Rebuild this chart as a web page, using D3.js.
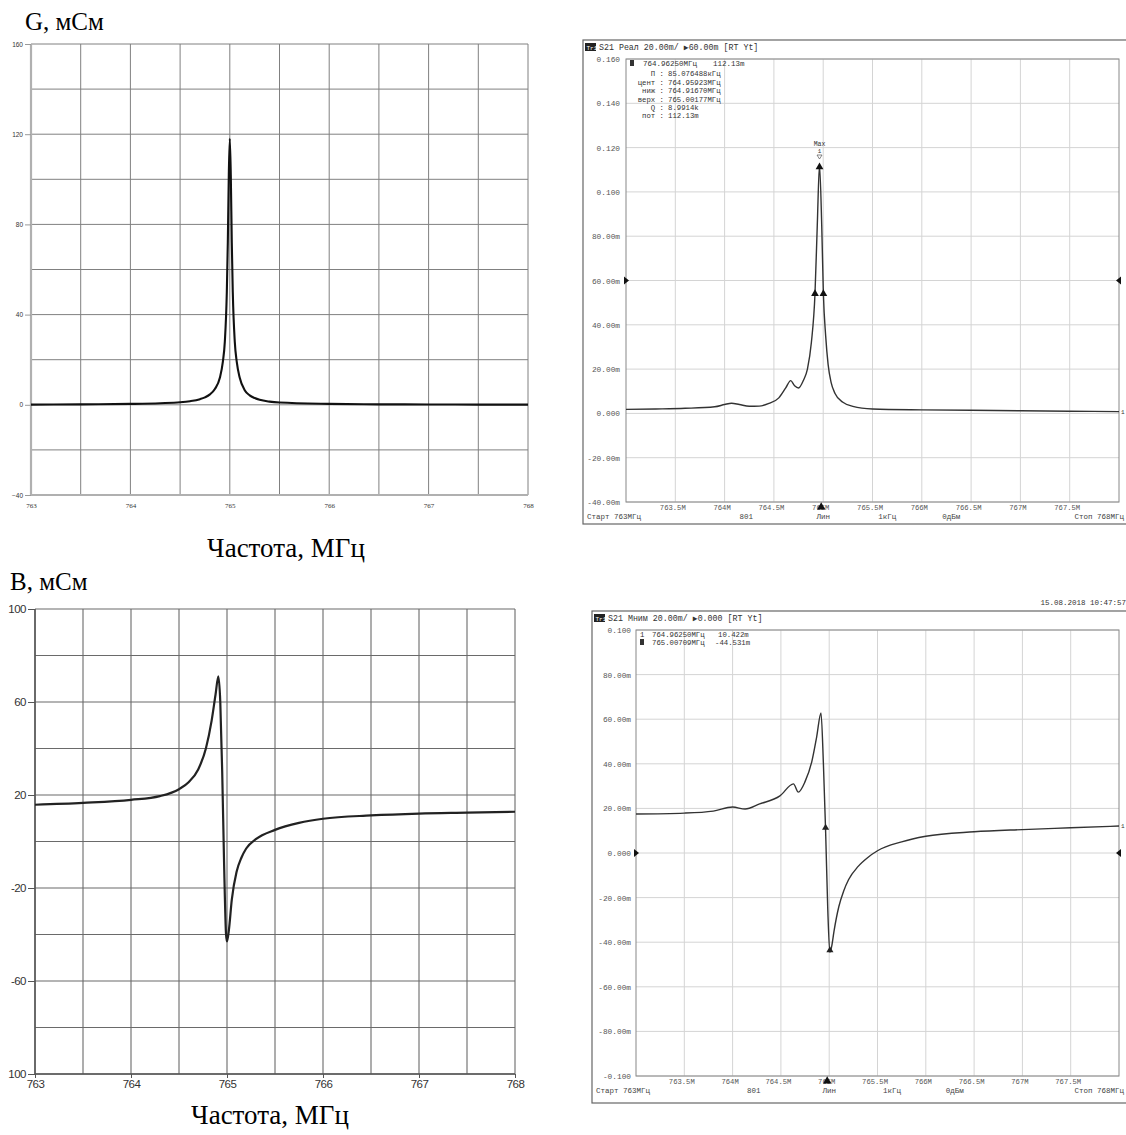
<!DOCTYPE html>
<html><head><meta charset="utf-8">
<script src="https://cdn.jsdelivr.net/npm/d3@7"></script>
<style>body{margin:0;background:#fff}svg{display:block}</style></head>
<body><svg id="c" width="1126" height="1135"></svg>
<script>
// ---------- DATA ----------
// Panel A: model conductance G (mSm)
const gFreq = [763.0,763.5,764.0,764.3,764.5,764.6,764.7,764.75,764.8,764.85,764.9,764.93,764.95,764.97,764.98,764.99,765.0,765.01,765.02,765.03,765.05,765.07,765.1,765.15,765.2,765.25,765.3,765.4,765.5,766.0,766.5,767.0,767.5,768.0];
const gValues = [0.1,0.2,0.4,0.7,1.1,1.6,2.5,3.3,4.6,7,12,19,28,50,72,102,118,102,72,50,28,19,12,6.5,4.2,3.0,2.2,1.4,1,0.4,0.2,0.15,0.1,0.1];
// Panel B: model susceptance B (mSm)
const bFreq = [763.0,763.5,764.0,764.3,764.5,764.6,764.7,764.78,764.84,764.88,764.91,764.93,764.95,764.97,764.99,765.0,765.02,765.05,765.1,765.15,765.2,765.3,765.5,765.75,766.0,766.5,767.0,767.5,768.0];
const bValues = [15.8,16.6,17.9,19.5,22.5,25.5,31,40,52,63,71,60,30,-10,-40,-43,-38,-25,-13,-7,-3,1,5,8,9.8,11.2,12,12.4,12.8];
// Panel C: measured S21 real part (m)
const reFreq = [763.0,763.3,763.6,763.9,764.0,764.07,764.15,764.25,764.35,764.45,764.55,764.62,764.67,764.71,764.75,764.8,764.84,764.88,764.9167,764.94,764.9625,764.985,765.0018,765.025,765.05,765.08,765.12,765.2,765.3,765.5,766.0,766.5,767.0,767.5,768.0];
const reValues = [1.8,2.0,2.3,3.0,4.0,4.6,4.0,3.2,3.3,4.5,7.0,11.5,14.8,12.5,11.5,15,20,32,54,85,112.13,85,54,35,22,14,9,5,3.2,2.0,1.6,1.4,1.2,1.0,0.8];
// Panel D: measured S21 imaginary part (m)
const imFreq = [763.0,763.5,763.8,764.0,764.13,764.28,764.49,764.63,764.68,764.75,764.82,764.87,764.915,764.94,764.9625,764.985,765.007,765.025,765.05,765.1,765.15,765.2,765.3,765.4,765.5,765.75,766.0,766.5,767.0,767.5,768.0];
const imValues = [17.5,17.9,18.8,20.6,19.7,22,25.6,31,27.3,32,41,52,62.8,40,10.4,-25,-44.5,-42,-35,-24,-17,-12,-6,-2,1,5,7.5,9.5,10.5,11.3,12.1];

// tick labels
const gYTicks = [-40,0,40,80,120,160];
const bYTicks = [-100,-60,-20,20,60,100];
const bYLabels = ["100","-60","-20","20","60","100"];
const modelXTicks = [763,764,765,766,767,768];
const vnaXTicks = [763.5,764,764.5,765,765.5,766,766.5,767,767.5];
const vnaXLabels = ["763.5M","764M","764.5M","765M","765.5M","766M","766.5M","767M","767.5M"];
const reYTicks = [160,140,120,100,80,60,40,20,0,-20,-40];
const reYLabels = ["0.160","0.140","0.120","0.100","80.00m","60.00m","40.00m","20.00m","0.000","-20.00m","-40.00m"];
const imYTicks = [100,80,60,40,20,0,-20,-40,-60,-80,-100];
const imYLabels = ["0.100","80.00m","60.00m","40.00m","20.00m","0.000","-20.00m","-40.00m","-60.00m","-80.00m","-0.100"];
const reInfoLabels = ["П :","цент :","ниж :","верх :","Q :","пот :"];
const reInfoValues = ["85.076488кГц","764.95923МГц","764.91670МГц","765.00177МГц","8.9914k","112.13m"];
const footer = ["Старт 763МГц","801","Лин","1кГц","0дБм","Стоп 768МГц"];

// ---------- DRAW ----------
const svg = d3.select("#c");
const serif = "'Liberation Serif','Times New Roman',serif";
const sans = "'Liberation Sans',Arial,sans-serif";
const mono = "'Liberation Mono','DejaVu Sans Mono',monospace";
const zip = (a,b)=>a.map((d,i)=>[d,b[i]]);

function gridLines(g,x,y,xs,ys,color,w){
  g.selectAll(null).data(xs).join("line")
    .attr("x1",d=>x(d)).attr("x2",d=>x(d)).attr("y1",y.range()[0]).attr("y2",y.range()[1])
    .attr("stroke",color).attr("stroke-width",w);
  g.selectAll(null).data(ys).join("line")
    .attr("y1",d=>y(d)).attr("y2",d=>y(d)).attr("x1",x.range()[0]).attr("x2",x.range()[1])
    .attr("stroke",color).attr("stroke-width",w);
}

// ===== Panel A (G) =====
{
  const x = d3.scaleLinear([763,768],[31,528]);
  const y = d3.scaleLinear([-40,160],[495,44]);
  const g = svg.append("g");
  gridLines(g,x,y,d3.range(763.5,768.01,0.5),d3.range(-20,160.1,20),"#808080",1);
  g.append("line").attr("x1",x(763)).attr("x2",x(763)).attr("y1",y(-40)).attr("y2",y(160)).attr("stroke","#b0b0b0").attr("stroke-width",2.2);
  g.append("line").attr("x1",x(763)).attr("x2",x(768)).attr("y1",y(-40)).attr("y2",y(-40)).attr("stroke","#b0b0b0").attr("stroke-width",2.2);
  const ay = g.append("g").attr("transform",`translate(${x(763)},0)`)
    .call(d3.axisLeft(y).tickValues(gYTicks).tickSize(6).tickPadding(2));
  ay.select(".domain").remove();
  ay.selectAll("line").attr("stroke","#999");
  ay.selectAll("text").attr("font-family",sans).attr("font-size",6.5).attr("fill","#333");
  const ax = g.append("g").attr("transform",`translate(0,${y(-40)})`)
    .call(d3.axisBottom(x).tickValues(modelXTicks).tickSize(0).tickPadding(8).tickFormat(d3.format("d")));
  ax.select(".domain").remove();
  ax.selectAll("text").attr("font-family",serif).attr("font-size",7).attr("fill","#333");
  g.append("path").datum(zip(gFreq,gValues))
    .attr("d",d3.line().x(d=>x(d[0])).y(d=>y(d[1])).curve(d3.curveMonotoneX))
    .attr("fill","none").attr("stroke","#111").attr("stroke-width",2.1);
  svg.append("text").attr("x",25).attr("y",30).attr("font-family",serif).attr("font-size",25).text("G, мСм");
  svg.append("text").attr("x",286).attr("y",557).attr("text-anchor","middle").attr("font-family",serif).attr("font-size",27).text("Частота, МГц");
}

// ===== Panel B (B) =====
{
  const x = d3.scaleLinear([763,768],[35,515]);
  const y = d3.scaleLinear([-100,100],[1074,609]);
  const g = svg.append("g");
  gridLines(g,x,y,d3.range(763,768.01,0.5),d3.range(-100,100.1,20),"#6a6a6a",1.1);
  g.append("line").attr("x1",x(763)).attr("x2",x(763)).attr("y1",y(-100)).attr("y2",y(100)).attr("stroke","#555").attr("stroke-width",1.5);
  g.append("line").attr("x1",x(763)).attr("x2",x(768)).attr("y1",y(-100)).attr("y2",y(-100)).attr("stroke","#555").attr("stroke-width",1.5);
  const ay = g.append("g").attr("transform",`translate(${x(763)},0)`)
    .call(d3.axisLeft(y).tickValues(bYTicks).tickSize(7).tickPadding(2).tickFormat((d,i)=>bYLabels[i]));
  ay.select(".domain").remove();
  ay.selectAll("line").attr("stroke","#555");
  ay.selectAll("text").attr("font-family",sans).attr("font-size",11.5).attr("fill","#333").attr("letter-spacing",-0.5);
  const ax = g.append("g").attr("transform",`translate(0,${y(-100)})`)
    .call(d3.axisBottom(x).tickValues(modelXTicks).tickSize(4).tickPadding(2).tickFormat(d3.format("d")));
  ax.select(".domain").remove();
  ax.selectAll("line").attr("stroke","#555");
  ax.selectAll("text").attr("font-family",sans).attr("font-size",11.5).attr("fill","#333").attr("letter-spacing",-0.5);
  g.append("path").datum(zip(bFreq,bValues))
    .attr("d",d3.line().x(d=>x(d[0])).y(d=>y(d[1])).curve(d3.curveMonotoneX))
    .attr("fill","none").attr("stroke","#222").attr("stroke-width",2.2);
  svg.append("text").attr("x",10).attr("y",590).attr("font-family",serif).attr("font-size",25).text("B, мСм");
  svg.append("text").attr("x",270).attr("y",1124).attr("text-anchor","middle").attr("font-family",serif).attr("font-size",27).text("Частота, МГц");
}

// ===== VNA panel helper =====
function vnaPanel(o){
  const x = d3.scaleLinear([763,768],[o.left,o.right]);
  const y = d3.scaleLinear([o.ymin,o.ymax],[o.bottom,o.top]);
  const g = svg.append("g");
  g.append("rect").attr("x",o.fx).attr("y",o.fy).attr("width",1126-o.fx+2).attr("height",o.fh)
    .attr("fill","#fff").attr("stroke","#666").attr("stroke-width",1.2);
  gridLines(g,x,y,d3.range(763.5,767.51,0.5),o.yTicks,"#d4d4d4",1);
  g.append("rect").attr("x",o.left).attr("y",o.top).attr("width",o.right-o.left).attr("height",o.bottom-o.top)
    .attr("fill","none").attr("stroke","#888").attr("stroke-width",1);
  g.append("rect").attr("x",o.fx+2).attr("y",o.fy+3).attr("width",11).attr("height",8).attr("fill","#222");
  g.append("text").attr("x",o.fx+3.5).attr("y",o.fy+10).attr("font-family",mono).attr("font-size",6).attr("fill","#fff").text("Tr1");
  g.append("text").attr("x",o.fx+16).attr("y",o.fy+10).attr("font-family",mono).attr("font-size",8.3).attr("fill","#333").text(o.header);
  const ay = g.append("g").attr("transform",`translate(${o.left},0)`)
    .call(d3.axisLeft(y).tickValues(o.yTicks).tickSize(0).tickPadding(o.ypad).tickFormat((d,i)=>o.yLabels[i]));
  ay.select(".domain").remove();
  ay.selectAll("text").attr("font-family",mono).attr("font-size",7.8).attr("fill","#555");
  const ax = g.append("g").attr("transform",`translate(-3,${o.bottom})`)
    .call(d3.axisBottom(x).tickValues(vnaXTicks).tickSize(0).tickPadding(3).tickFormat((d,i)=>vnaXLabels[i]));
  ax.select(".domain").remove();
  ax.selectAll("text").attr("font-family",mono).attr("font-size",7.2).attr("fill","#555");
  const fxs = [o.fx+4, x(764.25)-3, x(765), x(765.65), x(766.3), 1124];
  const anchors = ["start","middle","middle","middle","middle","end"];
  g.selectAll(null).data(footer).join("text")
    .attr("x",(d,i)=>fxs[i]).attr("y",o.bottom+17).attr("text-anchor",(d,i)=>anchors[i])
    .attr("font-family",mono).attr("font-size",7.5).attr("fill","#444").text(d=>d);
  g.append("path").attr("d",d3.symbol(d3.symbolTriangle,30)).attr("fill","#111")
    .attr("transform",`translate(${x(765)-2},${o.bottom+5})`);
  g.append("path").attr("d","M0,-4L5,0L0,4Z").attr("fill","#111").attr("transform",`translate(${o.left-2},${y(o.ref)})`);
  g.append("path").attr("d","M0,-4L-5,0L0,4Z").attr("fill","#111").attr("transform",`translate(${o.right+2},${y(o.ref)})`);
  g.append("path").datum(zip(o.fx_,o.vals))
    .attr("d",d3.line().x(d=>x(d[0])).y(d=>y(d[1])).curve(d3.curveMonotoneX))
    .attr("fill","none").attr("stroke","#333").attr("stroke-width",1.4);
  g.append("text").attr("x",o.right+2).attr("y",y(o.vals[o.vals.length-1])+2).attr("font-family",mono).attr("font-size",6).attr("fill","#333").text("1");
  return {x,y,g};
}

// ===== Panel C (S21 real) =====
{
  const p = vnaPanel({fx:583,fy:40,fh:484,left:626,right:1119,top:59,bottom:502,ymin:-40,ymax:160,
    yTicks:reYTicks,yLabels:reYLabels,ypad:6,ref:60,header:"S21 Реал 20.00m/ ▶60.00m [RT Yt]",fx_:reFreq,vals:reValues});
  const {x,y,g} = p;
  g.append("rect").attr("x",630).attr("y",60).attr("width",4).attr("height",6).attr("fill","#333");
  g.append("text").attr("x",643).attr("y",66).attr("font-family",mono).attr("font-size",7.5).attr("fill","#333").text("764.96250МГц");
  g.append("text").attr("x",713).attr("y",66).attr("font-family",mono).attr("font-size",7.5).attr("fill","#333").text("112.13m");
  const ly = [76,84.5,93,101.5,110,118];
  g.selectAll(null).data(reInfoLabels).join("text").attr("x",664).attr("y",(d,i)=>ly[i]).attr("text-anchor","end")
    .attr("font-family",mono).attr("font-size",7.3).attr("fill","#333").text(d=>d);
  g.selectAll(null).data(reInfoValues).join("text").attr("x",668).attr("y",(d,i)=>ly[i])
    .attr("font-family",mono).attr("font-size",7.3).attr("fill","#333").text(d=>d);
  const px = x(764.9625), py = y(112.13);
  g.append("text").attr("x",px).attr("y",146).attr("text-anchor","middle").attr("font-family",mono).attr("font-size",6.5).attr("fill","#333").text("Max");
  g.append("text").attr("x",px).attr("y",153).attr("text-anchor","middle").attr("font-family",mono).attr("font-size",6).attr("fill","#333").text("1");
  g.append("path").attr("d","M-2.5,0L2.5,0L0,4Z").attr("fill","none").attr("stroke","#555").attr("stroke-width",0.7).attr("transform",`translate(${px},155)`);
  g.append("path").attr("d",d3.symbol(d3.symbolTriangle,26)).attr("fill","#111").attr("transform",`translate(${px},${py+2})`);
  [764.9167,765.0018].forEach(f=>{
    g.append("path").attr("d",d3.symbol(d3.symbolTriangle,26)).attr("fill","#111").attr("transform",`translate(${x(f)},${y(54)})`);
  });
}

// ===== Panel D (S21 imaginary) =====
{
  const p = vnaPanel({fx:592,fy:611,fh:492,left:636,right:1119,top:630,bottom:1076,ymin:-100,ymax:100,
    yTicks:imYTicks,yLabels:imYLabels,ypad:5,ref:0,header:"S21 Мним 20.00m/ ▶0.000 [RT Yt]",fx_:imFreq,vals:imValues});
  const {x,y,g} = p;
  svg.append("text").attr("x",1126).attr("y",605).attr("text-anchor","end").attr("font-family",mono).attr("font-size",7.5).attr("fill","#333").text("15.08.2018 10:47:57");
  g.append("text").attr("x",640).attr("y",637).attr("font-family",mono).attr("font-size",7.3).attr("fill","#333").text("1");
  g.append("text").attr("x",652).attr("y",637).attr("font-family",mono).attr("font-size",7.3).attr("fill","#333").text("764.96250МГц");
  g.append("text").attr("x",718).attr("y",637).attr("font-family",mono).attr("font-size",7.3).attr("fill","#333").text("10.422m");
  g.append("rect").attr("x",640).attr("y",639).attr("width",4).attr("height",6).attr("fill","#333");
  g.append("text").attr("x",652).attr("y",645).attr("font-family",mono).attr("font-size",7.3).attr("fill","#333").text("765.00709МГц");
  g.append("text").attr("x",715).attr("y",645).attr("font-family",mono).attr("font-size",7.3).attr("fill","#333").text("-44.531m");
  g.append("path").attr("d",d3.symbol(d3.symbolTriangle,22)).attr("fill","#222").attr("transform",`translate(${x(764.9625)},${y(10.422)-2})`);
  g.append("path").attr("d",d3.symbol(d3.symbolTriangle,22)).attr("fill","#222").attr("transform",`translate(${x(765.00709)},${y(-44.531)-2})`);
}
</script></body></html>
